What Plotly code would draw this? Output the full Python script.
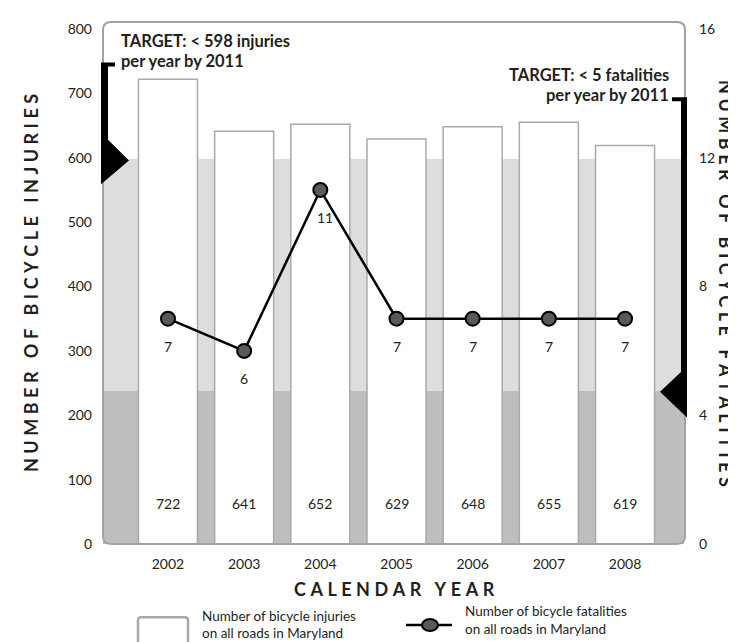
import plotly.graph_objects as go

# bicycle injuries / fatalities on all roads in Maryland
years = ['2002', '2003', '2004', '2005', '2006', '2007', '2008']
injuries = [722, 641, 652, 629, 648, 655, 619]
fatalities = [7, 6, 11, 7, 7, 7, 7]
injury_ticks = [0, 100, 200, 300, 400, 500, 600, 700, 800]
fatality_ticks = [0, 4, 8, 12, 16]
injury_target = 598
fatality_target = 5

W, H = 736, 642
L, R, T, B = 95, 676, 15, 536   # plot area in pixels

def px(x):
   return (x - L) / (R - L)

def py(y):
   return (B - y) / (B - T)

def poly(pts):
   return 'M ' + ' L '.join('%.5f,%.5f' % (px(x), py(y)) for x, y in pts) + ' Z'

def spaced(s):
   # no letter-spacing in plotly, so pad the letters out a bit
   return '\u2005'.join(s)

def rounded(x0, y0, x1, y1, r):
   return ('M %.5f,%.5f L %.5f,%.5f Q %.5f,%.5f %.5f,%.5f L %.5f,%.5f Q %.5f,%.5f %.5f,%.5f '
           'L %.5f,%.5f Q %.5f,%.5f %.5f,%.5f L %.5f,%.5f Q %.5f,%.5f %.5f,%.5f Z') % (
      px(x0 + r), py(y0), px(x1 - r), py(y0), px(x1), py(y0), px(x1), py(y0 + r),
      px(x1), py(y1 - r), px(x1), py(y1), px(x1 - r), py(y1),
      px(x0 + r), py(y1), px(x0), py(y1), px(x0), py(y1 - r),
      px(x0), py(y0 + r), px(x0), py(y0), px(x0 + r), py(y0))

num_font = dict(family='Lato, Open Sans, sans-serif', size=14, color='#231f20')
title_font = dict(family='Lato, sans-serif', size=18, color='#231f20', weight='bold')

fig = go.Figure()

fig.add_trace(go.Bar(
   x=years, y=injuries, width=0.775,
   marker=dict(color='white', line=dict(color='#a7a9ac', width=1.5)),
   yaxis='y', showlegend=False, hoverinfo='skip'))

fig.add_trace(go.Scatter(
   x=years, y=fatalities, mode='lines+markers', yaxis='y2',
   line=dict(color='black', width=2.5),
   marker=dict(size=14, color='#58595b', line=dict(color='black', width=2)),
   showlegend=False, hoverinfo='skip'))

shapes = [
   # target bands
   dict(type='rect', xref='paper', yref='y', x0=0, x1=1, y0=0, y1=injury_target,
        fillcolor='#dcdddf', line_width=0, layer='below'),
   dict(type='rect', xref='paper', yref='y2', x0=0, x1=1, y0=0, y1=fatality_target - 0.25,
        fillcolor='#bcbec0', line_width=0, layer='below'),
   # frame
   dict(type='path', xref='paper', yref='paper', path=rounded(95, 8, 677, 536, 8),
        line=dict(color='#a0a2a5', width=2)),
   # injury target bracket
   dict(type='path', xref='paper', yref='paper', fillcolor='black', line_width=0,
        path=poly([(93, 49), (107, 49), (107, 53), (100, 53), (100, 127), (121, 148), (93, 172)])),
   # fatality target bracket
   dict(type='path', xref='paper', yref='paper', fillcolor='black', line_width=0,
        path=poly([(664, 84), (679, 84), (679, 408), (652, 382), (673, 362), (673, 88), (664, 88)])),
   # legend box
   dict(type='path', xref='paper', yref='paper', path=rounded(130, 610, 180, 639, 3),
        line=dict(color='#a7a9ac', width=2.5)),
   # legend line
   dict(type='line', xref='paper', yref='paper', x0=px(398), x1=px(444), y0=py(618), y1=py(618),
        line=dict(color='black', width=2.5)),
   dict(type='circle', xref='paper', yref='paper', x0=px(414), x1=px(430), y0=py(624), y1=py(612),
        fillcolor='#58595b', line=dict(color='black', width=2)),
]

annotations = []
for i, v in enumerate(injuries):
   annotations.append(dict(x=i, y=63, xref='x', yref='y', text=str(v), showarrow=False,
                           font=num_font))
for i, v in enumerate(fatalities):
   annotations.append(dict(x=i, y=v, xref='x', yref='y2', text=str(v), showarrow=False,
                           yshift=-28, xshift=5 if v == max(fatalities) else 0, font=num_font))

def note(x, y, text, anchor='left', **kw):
   d = dict(x=px(x), y=py(y), xref='paper', yref='paper', text=text, showarrow=False,
            xanchor=anchor, yanchor='middle')
   d.update(kw)
   annotations.append(d)

bold = dict(family='Lato, sans-serif', size=16.5, color='#231f20', weight='bold')
note(111, 27, 'TARGET: < %d injuries' % injury_target, font=bold)
note(111, 47, 'per year by 2011', font=bold)
note(663, 62, 'TARGET: < %d fatalities' % fatality_target, anchor='right', font=bold)
note(663, 82, 'per year by 2011', anchor='right', font=bold)

note(23, 272, spaced('NUMBER OF BICYCLE INJURIES'), anchor='center', textangle=-90, font=title_font)
note(718, 272, spaced('NUMBER OF BICYCLE FATALITIES'), anchor='center', textangle=90, font=title_font)
note(386, 582, spaced('CALENDAR YEAR'), anchor='center', font=title_font)

leg_font = dict(family='Lato, sans-serif', size=13.5, color='#231f20')
note(192, 609, 'Number of bicycle injuries', font=leg_font)
note(192, 626, 'on all roads in Maryland', font=leg_font)
note(455, 604, 'Number of bicycle fatalities', font=leg_font)
note(455, 622, 'on all roads in Maryland', font=leg_font)

fig.update_layout(
   width=W, height=H,
   margin=dict(l=L, r=W - R, t=T, b=H - B, pad=0),
   paper_bgcolor='white', plot_bgcolor='rgba(0,0,0,0)',
   shapes=shapes, annotations=annotations,
   xaxis=dict(type='category', range=[-0.853, 6.774], showgrid=False, zeroline=False,
              showline=False, ticks='', tickfont=num_font, ticklabelstandoff=10),
   yaxis=dict(range=[0, 800], tickvals=injury_ticks, showgrid=False, zeroline=False,
              showline=False, ticks='', tickfont=num_font, ticklabelstandoff=10),
   yaxis2=dict(range=[0, 16], tickvals=fatality_ticks, overlaying='y', side='right',
               showgrid=False, zeroline=False, showline=False, ticks='', tickfont=num_font,
               ticklabelstandoff=14),
)

fig.write_html("out.html")
